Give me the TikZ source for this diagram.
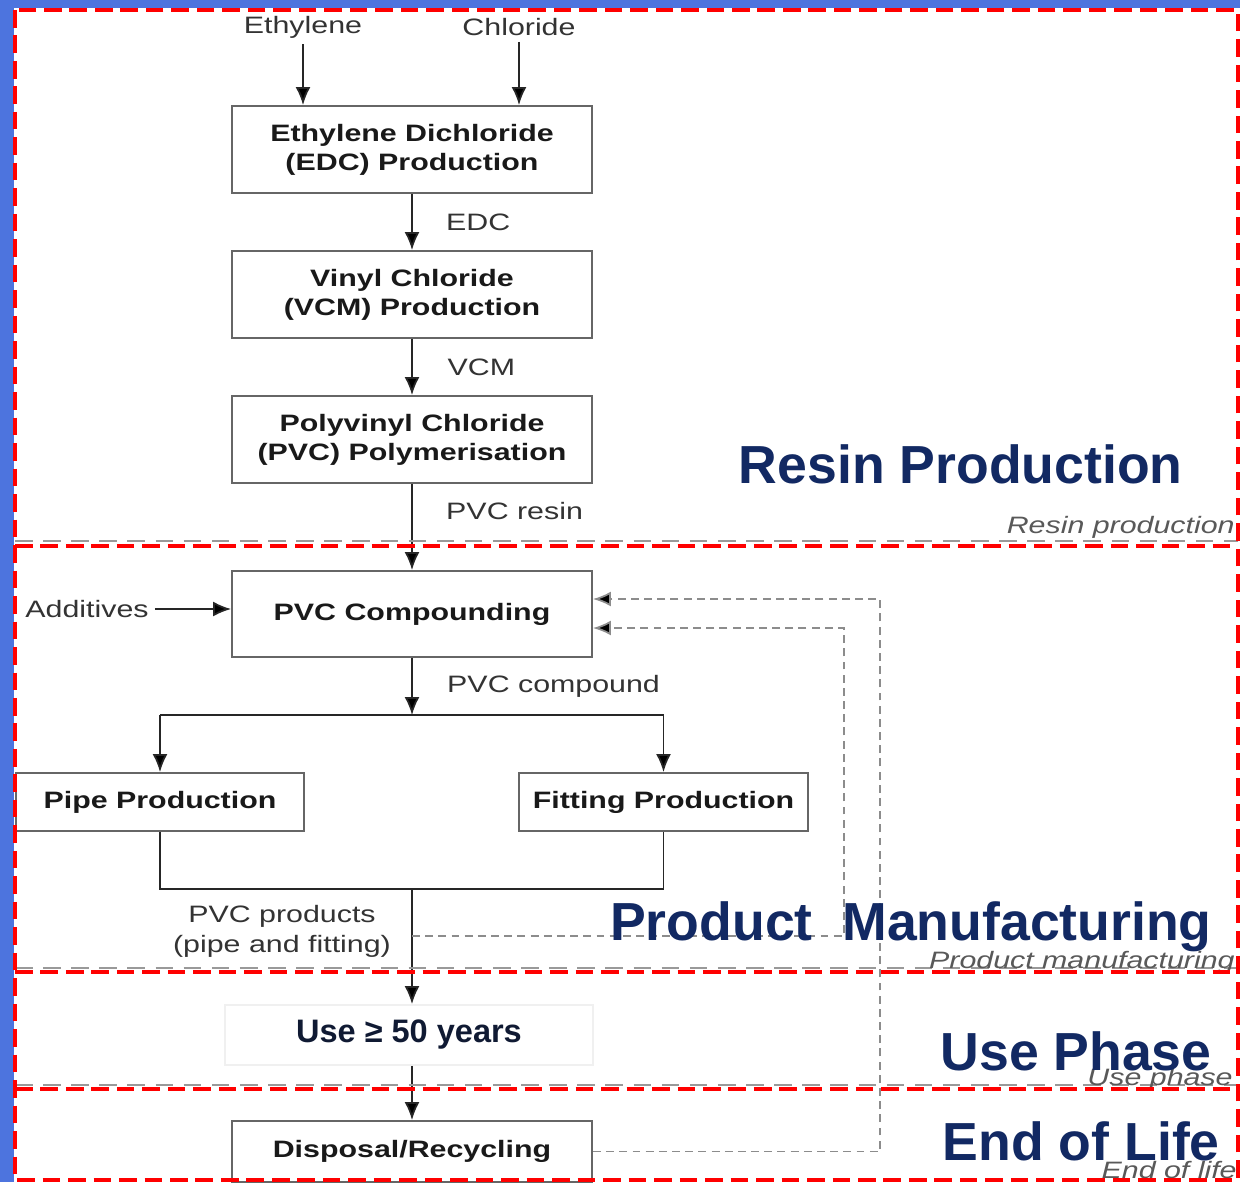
\documentclass[tikz,border=0pt]{standalone}
\usepackage{fontspec}
\setmainfont{Liberation Sans}
\newfontfamily\chartfont[FakeStretch=1.28]{Liberation Sans}
\usetikzlibrary{arrows.meta}
\definecolor{frameblue}{RGB}{77,116,222}
\definecolor{phasenavy}{RGB}{18,41,99}
\definecolor{usenavy}{RGB}{16,26,51}
\tikzset{
	stagenode/.style = {minimum width=7.2cm, minimum height=1.74cm, align=center, text centered, line width=1.1pt, fill=white},
	stagebox/.style = {rectangle, stagenode, draw=black!60, text=black!90, font=\chartfont\bfseries\fontsize{13.5}{16.5}\selectfont},
	shopbox/.style = {stagebox, minimum width=5.77cm, minimum height=1.16cm},
	usebox/.style = {rectangle, stagenode, minimum width=7.36cm, minimum height=1.2cm, draw=black!6, text=usenavy, font=\bfseries\fontsize{18.5}{22}\selectfont},
	flowtext/.style = {text=black!80, font=\chartfont\fontsize{13.5}{17}\selectfont, align=center},
	line/.style = {draw, black!85, line width=1pt, -{Latex[length=3.6mm,width=3mm,fill=black]}},
	fbline/.style = {line, black!45, dash pattern=on 4.5pt off 3pt},
	phasetitle/.style = {anchor=base east, inner sep=0pt, text=phasenavy, font=\bfseries\fontsize{30.5}{36}\selectfont},
	phasetag/.style = {anchor=base east, inner sep=0pt, text=black!65, font=\chartfont\itshape\fontsize{13.5}{16}\selectfont},
	phaseline/.style = {draw=red, line width=2.3pt, dash pattern=on 10pt off 4.5pt},
	oldline/.style = {draw=black!40, line width=1.4pt, dash pattern=on 10pt off 6pt}
}

\begin{document}
\begin{tikzpicture}[node distance=2.9cm]
		\useasboundingbox (0,0) rectangle (24.8,-23.64);
		\fill[frameblue] (0,0) rectangle (24.8,-23.64);
		\fill[white] (0.28,-0.16) rectangle (24.8,-23.64);

		%flowchart nodes
		\node (edc) [stagebox] at (8.24,-2.99) {Ethylene Dichloride \\ (EDC) Production};
		\node (vcm) [stagebox, below of=edc] {Vinyl Chloride \\ (VCM) Production};
		\node (pvc) [stagebox, below of=vcm] {Polyvinyl Chloride \\ (PVC) Polymerisation};
		\node (compound) [stagebox, below of=pvc, yshift=-0.59cm, minimum height=1.72cm] {PVC Compounding};
		\node (pipe) [shopbox, below of=compound, xshift=-5.04cm, yshift=-0.86cm] {Pipe Production};
		\node (fitting) [shopbox, right of=pipe, xshift=7.17cm] {Fitting Production};
		\node (use) [usebox] at (8.18,-20.70) {Use ≥ 50 years};
		\node (disposal) [shopbox, minimum width=7.2cm, minimum height=1.22cm] at (8.24,-23.03) {Disposal/Recycling};

		\node (ethylene) [flowtext] at (6.06,-0.54) {Ethylene};
		\node (chloride) [flowtext] at (10.38,-0.54) {Chloride};
		\node (additives) [flowtext] at (1.74,-12.18) {Additives};
		\node (products) [flowtext] at (5.64,-18.62) {PVC products \\ (pipe and fitting)};
		\coordinate (split) at (8.24,-14.30);
		\coordinate (join) at (8.24,-17.78);
		\coordinate (tap) at (8.24,-18.72);
		\coordinate (loopin) at (16.88,-12.56);
		\coordinate (loopout) at (17.60,-11.98);

		%connectors
		\path [line](ethylene.south) -- (ethylene.south |- edc.north);
		\path [line](chloride.south) -- (chloride.south |- edc.north);
		\path [line](edc) -- node[flowtext, anchor=west, xshift=0.55cm] {EDC} (vcm);
		\path [line](vcm) -- node[flowtext, anchor=west, xshift=0.58cm] {VCM} (pvc);
		\path [line](pvc) -- node[flowtext, anchor=west, xshift=0.55cm, pos=0.32] {PVC resin} (compound);
		\path [line](additives.east) -- (additives.east -| compound.west);
		\path [line](compound) -- node[flowtext, anchor=west, xshift=0.57cm] {PVC compound} (split);
		\draw [black!85, line width=1pt](split -| pipe) -- (split -| fitting);
		\path [line](split -| pipe) -- (pipe);
		\path [line](split -| fitting) -- (fitting);
		\draw [black!85, line width=1pt](pipe.south) |- (join) -| (fitting.south);
		\path [line](join) -- (join |- use.north);
		\path [line](use.south -| disposal) -- (disposal);
		\path [fbline](tap) -| (loopin) -- (loopin -| compound.east);
		\path [fbline](disposal.east) -| (loopout) -- (loopout -| compound.east);

		%phase frames
		\foreach \y in {-10.82,-19.36,-21.70}
			\path [oldline] (0.3,\y) -- (24.76,\y);
		\node [phasetag] at (24.7,-10.66) {Resin production};
		\node [phasetag] at (24.7,-19.36) {Product manufacturing};
		\node [phasetag] at (24.66,-21.70) {Use phase};
		\node [phasetag] at (24.74,-23.56) {End of life};
		\path [phaseline] (0.3,-0.2) rectangle (24.76,-23.6);
		\foreach \y in {-10.92,-19.44,-21.78}
			\path [phaseline] (0.3,\y) -- (24.76,\y);
		\node [phasetitle] at (23.66,-9.66) {Resin Production};
		\node [phasetitle] at (24.24,-18.8) {Product~~Manufacturing};
		\node [phasetitle] at (24.24,-21.4) {Use Phase};
		\node [phasetitle] at (24.4,-23.2) {End of Life};
\end{tikzpicture}
\end{document}
